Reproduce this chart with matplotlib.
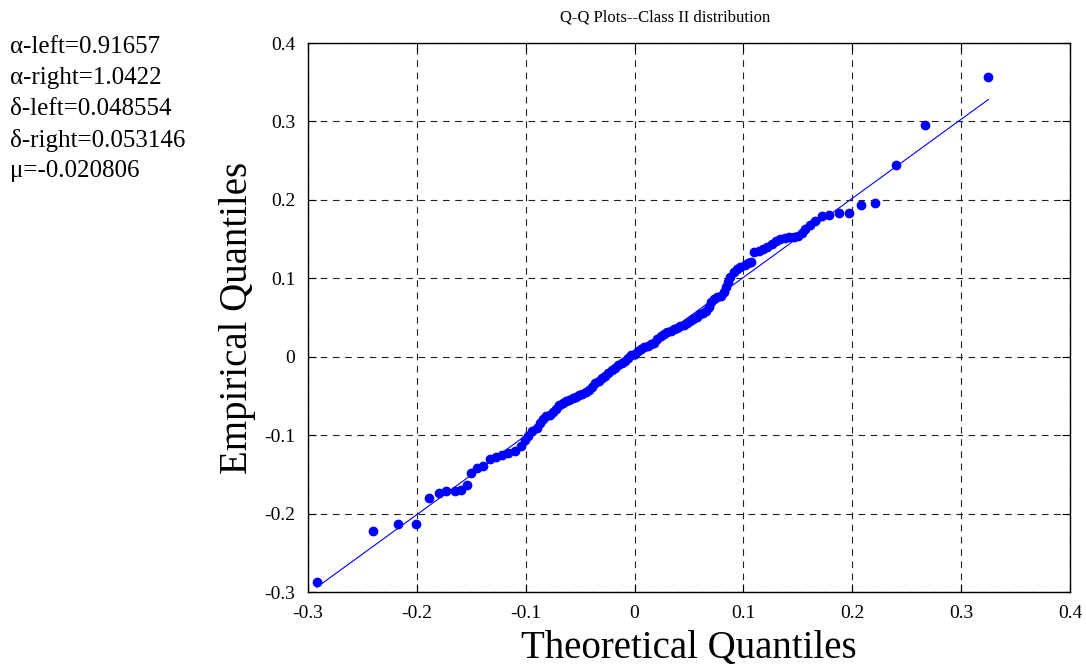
import matplotlib.pyplot as plt

# sorted sample quantiles against the fitted Class II quantiles
theoretical = [-0.292, -0.240, -0.217, -0.201, -0.189, -0.180, -0.173, -0.165, -0.159, -0.154,
               -0.150, -0.145, -0.139, -0.133, -0.127, -0.122, -0.116, -0.110, -0.104, -0.101,
               -0.098, -0.094, -0.090, -0.087, -0.084, -0.081, -0.078, -0.075, -0.072, -0.069,
               -0.066, -0.063, -0.060, -0.057, -0.054, -0.051, -0.048, -0.045, -0.042, -0.039,
               -0.036, -0.033, -0.030, -0.027, -0.024, -0.021, -0.018, -0.015, -0.012, -0.009,
               -0.006, -0.003, 0.000, 0.003, 0.006, 0.009, 0.012, 0.015, 0.018, 0.021,
               0.024, 0.027, 0.030, 0.033, 0.036, 0.039, 0.042, 0.045, 0.048, 0.051,
               0.054, 0.057, 0.060, 0.063, 0.066, 0.068, 0.070, 0.073, 0.076, 0.079,
               0.082, 0.084, 0.086, 0.088, 0.091, 0.094, 0.097, 0.101, 0.104, 0.107,
               0.110, 0.114, 0.118, 0.122, 0.126, 0.130, 0.134, 0.138, 0.142, 0.146,
               0.150, 0.154, 0.157, 0.161, 0.166, 0.172, 0.179, 0.188, 0.197, 0.208,
               0.221, 0.240, 0.267, 0.325]
empirical = [-0.287, -0.222, -0.213, -0.213, -0.180, -0.174, -0.171, -0.171, -0.170, -0.163,
             -0.148, -0.142, -0.139, -0.130, -0.128, -0.125, -0.123, -0.120, -0.114, -0.106,
             -0.101, -0.095, -0.091, -0.085, -0.079, -0.076, -0.074, -0.071, -0.066, -0.061,
             -0.059, -0.057, -0.055, -0.053, -0.051, -0.049, -0.047, -0.045, -0.042, -0.038,
             -0.034, -0.031, -0.027, -0.024, -0.021, -0.017, -0.014, -0.011, -0.008, -0.005,
             -0.002, 0.002, 0.004, 0.007, 0.010, 0.012, 0.014, 0.016, 0.018, 0.022,
             0.026, 0.029, 0.031, 0.033, 0.035, 0.037, 0.039, 0.041, 0.043, 0.045,
             0.048, 0.051, 0.054, 0.056, 0.058, 0.064, 0.070, 0.073, 0.076, 0.078,
             0.083, 0.089, 0.095, 0.102, 0.108, 0.112, 0.114, 0.117, 0.119, 0.121,
             0.133, 0.135, 0.137, 0.140, 0.144, 0.147, 0.150, 0.152, 0.153, 0.153,
             0.154, 0.158, 0.163, 0.168, 0.173, 0.179, 0.181, 0.183, 0.183, 0.194,
             0.196, 0.244, 0.296, 0.357]

# reference line ends
fit_x = [-0.292, 0.325]
fit_y = [-0.294, 0.328]

params = ['\u03b1-left=0.91657', '\u03b1-right=1.0422', '\u03b4-left=0.048554',
          '\u03b4-right=0.053146', '\u03bc=-0.020806']

xticks = [-0.3, -0.2, -0.1, 0, 0.1, 0.2, 0.3, 0.4]
yticks = [-0.3, -0.2, -0.1, 0, 0.1, 0.2, 0.3, 0.4]

plt.rcParams['font.family'] = ['Liberation Serif', 'DejaVu Serif']

fig = plt.figure(figsize=(10.86, 6.67), dpi=100)
ax = fig.add_axes([0.2836, 0.1124, 0.7017, 0.8231])

ax.plot(fit_x, fit_y, color='#0000ff', lw=0.8, zorder=2)
ax.plot(theoretical, empirical, 'o', color='#0000ff', ms=6, mec='#0000ff', zorder=3)

ax.set_xlim(-0.3, 0.4)
ax.set_ylim(-0.3, 0.4)
ax.set_xticks(xticks)
ax.set_yticks(yticks)
ax.set_xticklabels(['%g' % v for v in xticks])
ax.set_yticklabels(['%g' % v for v in yticks])
ax.tick_params(direction='in', length=6, width=0.8, top=True, right=True,
               labelsize=14)
ax.tick_params(axis='x', pad=9)
ax.tick_params(axis='y', pad=9)
ax.grid(True, color='#222222', linestyle=(0, (6, 5)), lw=0.8)
for s in ax.spines.values():
    s.set_linewidth(1.0)

fig.text(0.6125, 1 - 17 / 667, 'Q-Q Plots--Class II distribution',
         fontsize=12, ha='center', va='center')
ax.set_xlabel('Theoretical Quantiles', fontsize=28, labelpad=6)
ax.set_ylabel('Empirical Quantiles', fontsize=28, labelpad=6)

for i, t in enumerate(params):
    fig.text(0.009, 1 - (47 + 31 * i) / 667, t, fontsize=18, va='center', ha='left')

fig.savefig('out.png', dpi=100)
